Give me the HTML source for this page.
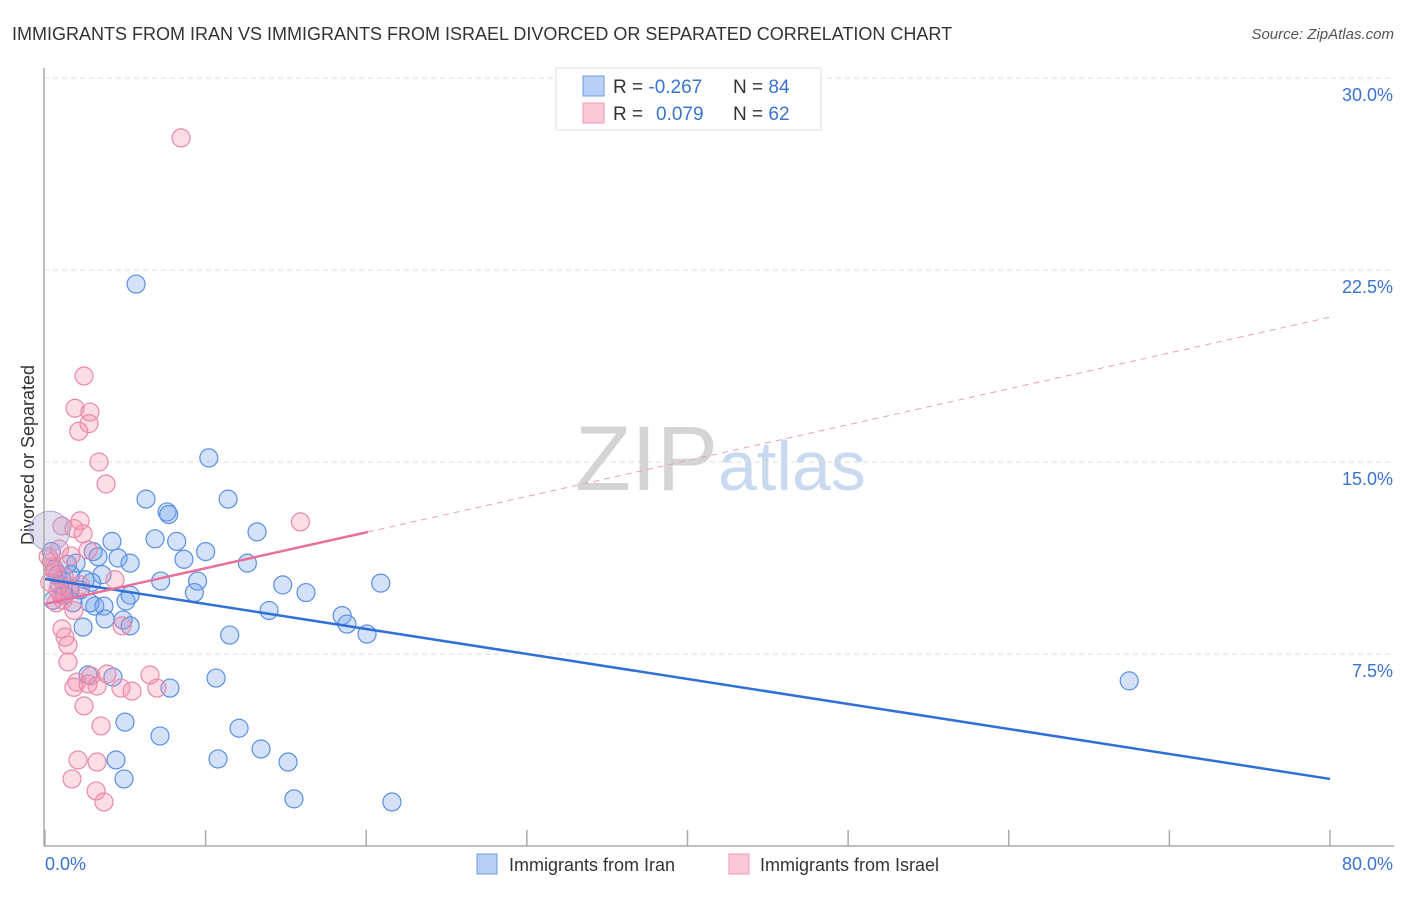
<!DOCTYPE html>
<html><head><meta charset="utf-8"><style>
body{margin:0;background:#fff;font-family:"Liberation Sans",sans-serif}
svg text{font-family:"Liberation Sans",sans-serif}
</style></head><body>
<svg id="chart" width="1406" height="892">
<text x="12" y="40" font-size="18" fill="#333">IMMIGRANTS FROM IRAN VS IMMIGRANTS FROM ISRAEL DIVORCED OR SEPARATED CORRELATION CHART</text>
<text x="1394" y="39" font-size="15" fill="#555" font-style="italic" text-anchor="end">Source: ZipAtlas.com</text>
<text x="718" y="490" font-size="92" fill="#d4d4d4" font-family="Liberation Serif" text-anchor="end">ZIP</text>
<text x="718" y="490" font-size="70" fill="#c9d9f0">atlas</text>
<text x="34" y="455" font-size="18" fill="#333" text-anchor="middle" transform="rotate(-90 34 455)">Divorced or Separated</text>
<g id="grid"></g><g id="marks"></g><g id="lines"></g>
<line x1="44" y1="68" x2="44" y2="846" stroke="#aaa" stroke-width="1.5"/>
<line x1="44" y1="846" x2="1394" y2="846" stroke="#aaa" stroke-width="1.5"/>
<text x="45" y="870" font-size="18" fill="#3a73d0">0.0%</text>
<text x="1393" y="870" font-size="18" fill="#3a73d0" text-anchor="end">80.0%</text>
<g>
<rect x="556" y="68" width="265" height="62" fill="#fff" stroke="#ddd"/>
<rect x="583" y="76" width="21" height="20" fill="#b8d0f5" stroke="#6d9de0"/>
<rect x="583" y="103" width="21" height="20" fill="#fcc8d8" stroke="#ee99b4"/>
<text x="613" y="93" font-size="19" fill="#333">R = <tspan fill="#3a73d0">-0.267</tspan><tspan x="733">N = </tspan><tspan fill="#3a73d0">84</tspan></text>
<text x="613" y="120" font-size="19" fill="#333">R = <tspan fill="#3a73d0" x="656">0.079</tspan><tspan x="733">N = </tspan><tspan fill="#3a73d0">62</tspan></text>
</g>
<g>
<rect x="477" y="854" width="20" height="20" fill="#b8d0f5" stroke="#6d9de0"/>
<text x="509" y="871" font-size="18" fill="#333">Immigrants from Iran</text>
<rect x="729" y="854" width="20" height="20" fill="#fcc8d8" stroke="#ee99b4"/>
<text x="760" y="871" font-size="18" fill="#333">Immigrants from Israel</text>
</g>
</svg>
<script>
const yTicks=[7.5,15,22.5,30];
const xTicks=[0,10,20,30,40,50,60,70,80];
const iranX=[5.67,10.2,6.29,11.4,7.6,13.2,6.85,8.2,4.17,3.0,10.0,4.55,8.65,5.3,12.6,3.3,1.93,7.2,9.5,14.8,16.25,20.9,9.3,3.55,2.9,1.06,1.56,2.18,5.3,5.04,13.95,18.5,18.8,20.05,3.1,3.67,1.74,4.86,3.74,5.3,2.37,11.5,10.65,4.23,2.68,7.78,67.5,4.98,12.08,7.16,13.45,10.77,4.42,15.13,4.92,15.5,21.6,0.4,0.6,0.9,1.2,0.5,0.8,1.6,2.5,2.8,1.4,7.7];
const iranY=[21.95,15.16,13.55,13.55,13.05,12.27,12.0,11.9,11.9,11.5,11.5,11.25,11.2,11.05,11.05,11.3,11.05,10.35,10.35,10.2,9.9,10.27,9.9,10.6,10.3,10.4,10.0,10.0,9.8,9.57,9.2,9.0,8.67,8.28,9.37,9.37,9.5,8.83,8.87,8.6,8.55,8.24,6.56,6.6,6.68,6.17,6.45,4.84,4.6,4.3,3.79,3.4,3.36,3.28,2.62,1.84,1.72,11.5,10.8,10.2,9.8,9.6,10.6,10.6,10.4,9.5,11.0,12.95];
const israelX=[8.47,2.43,1.87,2.8,2.74,2.1,3.36,3.8,15.9,2.18,1.06,1.8,2.37,2.68,1.62,4.36,1.12,1.8,4.8,1.06,1.25,1.43,1.43,1.99,1.8,2.86,3.86,2.68,3.24,4.73,5.42,6.54,6.97,2.43,3.49,2.05,3.24,1.68,3.18,3.67,0.4,0.6,0.3,0.8,1.0,0.5,1.2,0.2,0.7,1.5,0.9,2.2];
const israelY=[27.66,18.36,17.1,16.95,16.5,16.2,15.0,14.14,12.66,12.7,12.5,12.4,12.2,11.56,11.33,10.4,9.6,9.2,8.6,8.48,8.16,7.85,7.19,6.4,6.2,6.64,6.72,6.33,6.25,6.17,6.05,6.68,6.17,5.47,4.69,3.36,3.28,2.62,2.15,1.72,11.1,10.7,10.3,10.0,9.8,10.9,10.5,11.3,9.5,10.1,11.6,10.2];
const iranFit=[10.43,2.62];      // y at x=0, y at x=80
const israelFit=[9.45,20.66];    // y at x=0, y at x=80
const israelSolidEnd=20.1;
const NS="http://www.w3.org/2000/svg";
const X=v=>45+v/80*1285, Y=v=>846-v*25.6;
function mk(t,a,p){const e=document.createElementNS(NS,t);for(const k in a)e.setAttribute(k,a[k]);p.appendChild(e);return e;}
const grid=document.getElementById('grid'),marks=document.getElementById('marks'),lines=document.getElementById('lines');
yTicks.forEach(v=>{
 const l=mk('line',{x1:44,x2:1394,y1:Y(v),y2:Y(v),stroke:'#ddd','stroke-dasharray':'5,4'},grid);
 
 
 const t=mk('text',{x:1393,y:Y(v)+23,'font-size':18,fill:'#3a73d0','text-anchor':'end'},grid);
 t.textContent=v.toFixed(1)+'%';
 
 
});
xTicks.forEach(v=>{
 const l=mk('line',{x1:X(v),x2:X(v),y1:830,y2:846,stroke:'#aaa','stroke-width':1.5},grid);
 
 
});
iranX.forEach((x,i)=>{
 const c=mk('circle',{cx:X(x),cy:Y(iranY[i]),r:9,fill:'rgba(110,160,235,0.3)',stroke:'#5b8fe0','stroke-width':1.2},marks);
 
 
});
israelX.forEach((x,i)=>{
 const c=mk('circle',{cx:X(x),cy:Y(israelY[i]),r:9,fill:'rgba(245,140,170,0.3)',stroke:'#e88aa8','stroke-width':1.2},marks);
 
 
});
const big=mk('circle',{cx:X(0.3),cy:Y(12.3),r:20,fill:'rgba(170,160,210,0.35)',stroke:'#b0a8d8'},marks);


const iy=x=>israelFit[0]+(israelFit[1]-israelFit[0])*x/80;
let l=mk('line',{x1:X(0),y1:Y(iranFit[0]),x2:X(80),y2:Y(iranFit[1]),stroke:'#2f6fd6','stroke-width':2.5},lines);


l=mk('line',{x1:X(0),y1:Y(iy(0)),x2:X(israelSolidEnd),y2:Y(iy(israelSolidEnd)),stroke:'#e8709a','stroke-width':2.5},lines);


l=mk('line',{x1:X(israelSolidEnd),y1:Y(iy(israelSolidEnd)),x2:X(80),y2:Y(iy(80)),stroke:'#e8a0b8','stroke-width':1,'stroke-dasharray':'6,5'},lines);


</script>
</body></html>
